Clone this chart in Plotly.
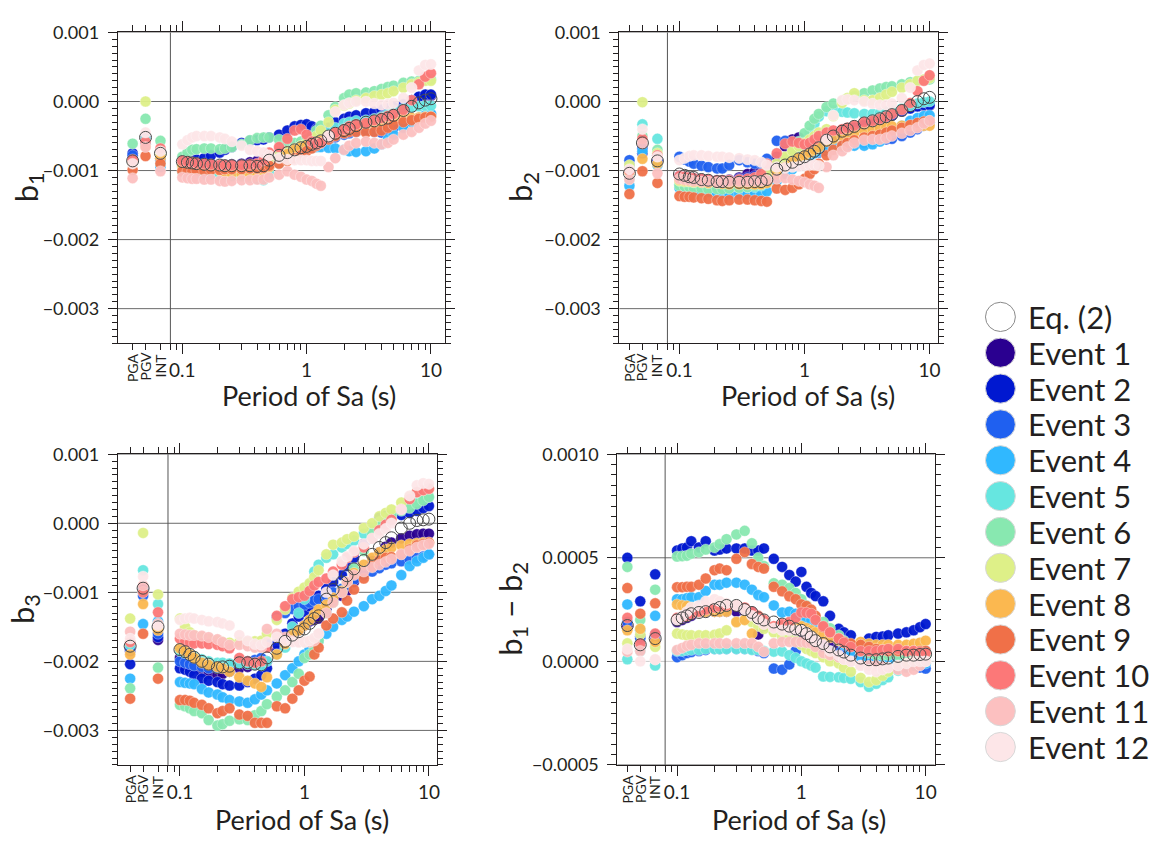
import math
import plotly.graph_objects as go

W, H = 1167, 848
SCALE = 1e-3  # values below are in units of 0.001

PERIODS = [0.1, 0.11, 0.12, 0.13, 0.15, 0.17, 0.2, 0.22, 0.25, 0.3, 0.35, 0.4, 0.45, 0.5,
           0.6, 0.7, 0.8, 0.9, 1.0, 1.1, 1.2, 1.3,
           1.5, 1.7, 2.0, 2.2, 2.5, 3.0, 3.5, 4.0, 4.5, 5.0,
           6.0, 7.0, 8.0, 9.0, 10.0]
CATEGORIES = ["PGA", "PGV", "INT"]
SERIES = ["Eq. (2)"] + ["Event %d" % i for i in range(1, 13)]
COLORS = ["#ffffff", "#2a0090", "#0018d0", "#1f60f0", "#30b8ff", "#66e6e0", "#88e8b0",
          "#def088", "#fbb850", "#f07048", "#fc7878", "#fcc0c0", "#fde6e8"]

# ---------------- b1 ----------------
B1_CAT = [[-0.86, -0.52, -0.75], [-0.80, -0.54, -0.82], [-0.75, -0.57, -0.80], [-0.78, -0.60, -0.85],
          [-0.90, -0.62, -0.95], [-0.88, -0.55, -0.90], [-0.61, -0.25, -0.57], [-0.90, 0.00, -0.78],
          [-0.88, -0.65, -0.82], [-0.99, -0.79, -0.90], [-0.84, -0.58, -0.68], [-1.11, -0.66, -1.01],
          [-0.90, -0.45, -0.72]]
B1_SA = [
    [-0.87, -0.88, -0.89, -0.90, -0.91, -0.92, -0.92, -0.93, -0.93, -0.93, -0.93, -0.94, -0.93, -0.85,
     -0.78, -0.74, -0.70, -0.67, -0.65, -0.62, -0.60, -0.57,
     -0.50, -0.46, -0.42, -0.39, -0.35, -0.30, -0.28, -0.26, -0.24, -0.20,
     -0.13, -0.07, -0.02, 0.02, 0.04],
    [-0.86, -0.87, -0.88, -0.89, -0.90, -0.91, -0.93, -0.92, -0.91, -0.90, -0.88, -0.86, -0.84, -0.80,
     -0.75, -0.70, -0.66, -0.63, -0.62, -0.60, -0.58, -0.55,
     -0.48, -0.44, -0.40, -0.37, -0.33, -0.28, -0.24, -0.20, -0.15, -0.12,
     -0.05, 0.02, 0.06, 0.08, 0.08],
    [-0.88, -0.87, -0.86, -0.84, -0.82, -0.78, -0.74, -0.70, -0.66, -0.60, -0.57, -0.56, -0.55, -0.52,
     -0.48, -0.42, -0.36, -0.34, -0.33, -0.36, -0.40, -0.42,
     -0.38, -0.30, -0.25, -0.22, -0.20, -0.17, -0.15, -0.12, -0.10, -0.08,
     -0.04, 0.02, 0.07, 0.10, 0.10],
    [-0.92, -0.93, -0.93, -0.94, -0.95, -0.96, -0.96, -0.95, -0.95, -0.94, -0.93, -0.92, -0.90, -0.87,
     -0.80, -0.74, -0.70, -0.67, -0.65, -0.63, -0.62, -0.60,
     -0.56, -0.52, -0.48, -0.46, -0.44, -0.42, -0.44, -0.45, -0.42, -0.38,
     -0.33, -0.28, -0.24, -0.20, -0.18],
    [-0.95, -0.96, -0.97, -0.98, -0.98, -0.99, -1.00, -1.00, -0.99, -0.98, -0.96, -0.95, -0.93, -0.88,
     -0.82, -0.77, -0.73, -0.71, -0.69, -0.67, -0.66, -0.66,
     -0.67, -0.68, -0.70, -0.72, -0.73, -0.72, -0.68, -0.62, -0.55, -0.48,
     -0.38, -0.30, -0.24, -0.20, -0.18],
    [-1.02, -1.03, -1.04, -1.05, -1.06, -1.06, -1.07, -1.08, -1.08, -1.08, -1.10, -1.12, -1.14, -1.05,
     -0.90, -0.80, -0.72, -0.68, -0.64, -0.60, -0.56, -0.52,
     -0.45, -0.38, -0.32, -0.30, -0.28, -0.27, -0.25, -0.22, -0.18, -0.13,
     -0.10, -0.08, -0.07, -0.06, -0.06],
    [-0.80, -0.74, -0.70, -0.69, -0.68, -0.68, -0.69, -0.68, -0.66, -0.62, -0.56, -0.53, -0.52, -0.52,
     -0.55, -0.58, -0.60, -0.58, -0.55, -0.50, -0.42, -0.35,
     -0.20, -0.08, 0.05, 0.10, 0.12, 0.13, 0.15, 0.18, 0.21, 0.23,
     0.27, 0.29, 0.30, 0.31, 0.32],
    [-0.94, -0.95, -0.95, -0.96, -0.96, -0.97, -0.97, -0.97, -0.96, -0.95, -0.94, -0.92, -0.90, -0.85,
     -0.78, -0.72, -0.68, -0.64, -0.60, -0.56, -0.50, -0.42,
     -0.30, -0.12, -0.06, -0.03, 0.02, 0.05, 0.08, 0.10, 0.12, 0.15,
     0.20, 0.25, 0.28, 0.30, 0.30],
    [-0.92, -0.93, -0.94, -0.95, -0.96, -0.98, -1.00, -1.02, -1.04, -1.06, -1.08, -1.08, -1.05, -0.95,
     -0.84, -0.76, -0.70, -0.67, -0.64, -0.62, -0.60, -0.57,
     -0.50, -0.46, -0.42, -0.40, -0.37, -0.34, -0.32, -0.30, -0.28, -0.26,
     -0.24, -0.24, -0.23, -0.22, -0.22],
    [-1.01, -1.01, -1.01, -1.00, -1.00, -0.99, -0.99, -0.98, -0.98, -0.98, -0.97, -0.97, -0.96, -0.93,
     -0.90, -0.86, -0.82, -0.78, -0.72, -0.68, -0.64, -0.60,
     -0.55, -0.50, -0.46, -0.44, -0.44, -0.45, -0.44, -0.42, -0.38, -0.34,
     -0.30, -0.27, -0.25, -0.23, -0.22],
    [-0.86, -0.87, -0.88, -0.89, -0.90, -0.91, -0.92, -0.92, -0.92, -0.92, -0.91, -0.90, -0.85, -0.74,
     -0.66, -0.54, -0.42, -0.40, -0.48, -0.58, -0.62, -0.60,
     -0.52, -0.45, -0.40, -0.36, -0.33, -0.31, -0.27, -0.24, -0.21, -0.18,
     -0.12, 0.02, 0.25, 0.36, 0.41],
    [-1.10, -1.11, -1.12, -1.12, -1.13, -1.13, -1.15, -1.16, -1.15, -1.14, -1.14, -1.13, -1.13, -1.10,
     -1.06, -1.01, -1.06, -1.09, -1.13, -1.15, -1.19, -1.22,
     -0.95, -0.82, -0.70, -0.64, -0.60, -0.58, -0.60, -0.62, -0.60, -0.55,
     -0.48, -0.44, -0.38, -0.32, -0.28],
    [-0.62, -0.56, -0.52, -0.50, -0.50, -0.50, -0.52, -0.54, -0.58, -0.64, -0.70, -0.72, -0.74, -0.78,
     -0.82, -0.84, -0.85, -0.85, -0.85, -0.86, -0.86, -0.86,
     -0.50, -0.15, -0.05, -0.02, 0.00, 0.00, -0.03, -0.05, -0.04, -0.02,
     0.05, 0.20, 0.45, 0.53, 0.54],
]

# ---------------- b2 ----------------
B2_CAT = [[-1.04, -0.60, -0.86], [-0.95, -0.70, -0.90], [-0.92, -0.75, -0.85], [-0.85, -0.68, -0.78],
          [-1.22, -0.72, -0.92], [-1.12, -0.33, -0.54], [-0.95, -0.50, -0.70], [-0.92, -0.01, -0.75],
          [-1.02, -0.83, -0.90], [-1.34, -1.01, -1.18], [-1.00, -0.54, -0.78], [-1.13, -0.61, -1.04],
          [-0.98, -0.40, -0.80]]
B2_SA = [
    [-1.05, -1.07, -1.09, -1.10, -1.13, -1.14, -1.16, -1.16, -1.17, -1.17, -1.17, -1.16, -1.16, -1.13,
     -0.98, -0.92, -0.88, -0.83, -0.80, -0.76, -0.72, -0.67,
     -0.56, -0.50, -0.43, -0.40, -0.36, -0.31, -0.28, -0.25, -0.22, -0.19,
     -0.13, -0.06, 0.00, 0.04, 0.06],
    [-1.08, -1.09, -1.10, -1.11, -1.12, -1.13, -1.14, -1.14, -1.13, -1.10, -1.05, -1.02, -1.00, -0.95,
     -0.80, -0.65, -0.55, -0.52, -0.60, -0.66, -0.68, -0.64,
     -0.55, -0.50, -0.45, -0.42, -0.38, -0.34, -0.30, -0.27, -0.24, -0.20,
     -0.14, -0.10, -0.07, -0.06, -0.06],
    [-1.10, -1.11, -1.12, -1.12, -1.13, -1.14, -1.15, -1.15, -1.14, -1.12, -1.10, -1.08, -1.05, -1.00,
     -0.92, -0.86, -0.82, -0.78, -0.75, -0.73, -0.70, -0.66,
     -0.58, -0.52, -0.46, -0.42, -0.38, -0.34, -0.30, -0.27, -0.24, -0.20,
     -0.14, -0.10, -0.07, -0.05, -0.05],
    [-0.80, -0.84, -0.87, -0.90, -0.93, -0.95, -0.97, -0.97, -0.92, -0.85, -0.88, -0.90, -0.90, -0.83,
     -0.57, -0.57, -0.62, -0.66, -0.70, -0.72, -0.73, -0.74,
     -0.72, -0.68, -0.64, -0.62, -0.60, -0.60, -0.58, -0.56, -0.55, -0.54,
     -0.50, -0.45, -0.40, -0.35, -0.30],
    [-1.25, -1.26, -1.27, -1.28, -1.30, -1.31, -1.33, -1.33, -1.34, -1.34, -1.34, -1.34, -1.34, -1.30,
     -1.15, -1.05, -0.98, -0.92, -0.86, -0.80, -0.75, -0.72,
     -0.68, -0.66, -0.65, -0.64, -0.64, -0.64, -0.62, -0.58, -0.52, -0.45,
     -0.35, -0.28, -0.24, -0.21, -0.20],
    [-1.20, -1.21, -1.22, -1.22, -1.23, -1.24, -1.24, -1.24, -1.25, -1.25, -1.24, -1.24, -1.22, -1.15,
     -1.00, -0.88, -0.78, -0.68, -0.58, -0.45, -0.32, -0.22,
     -0.14, -0.13, -0.15, -0.16, -0.17, -0.18, -0.18, -0.17, -0.15, -0.13,
     -0.10, -0.06, -0.03, -0.01, 0.00],
    [-1.22, -1.23, -1.24, -1.25, -1.26, -1.27, -1.27, -1.27, -1.26, -1.25, -1.24, -1.22, -1.20, -1.10,
     -0.95, -0.82, -0.70, -0.58, -0.46, -0.35, -0.25, -0.18,
     -0.08, -0.03, 0.00, 0.04, 0.08, 0.12, 0.16, 0.19, 0.21, 0.22,
     0.25, 0.28, 0.30, 0.31, 0.32],
    [-1.15, -1.16, -1.16, -1.17, -1.17, -1.18, -1.18, -1.18, -1.17, -1.16, -1.15, -1.13, -1.10, -1.00,
     -0.90, -0.80, -0.72, -0.65, -0.60, -0.55, -0.50, -0.45,
     -0.40, -0.21, -0.02, 0.05, 0.12, 0.02, 0.02, 0.05, 0.10, 0.14,
     0.20, 0.25, 0.30, 0.32, 0.34],
    [-1.13, -1.14, -1.15, -1.16, -1.17, -1.18, -1.18, -1.19, -1.20, -1.20, -1.20, -1.20, -1.20, -1.18,
     -1.05, -0.95, -0.88, -0.82, -0.78, -0.74, -0.70, -0.66,
     -0.58, -0.54, -0.50, -0.48, -0.45, -0.42, -0.40, -0.38, -0.37, -0.36,
     -0.35, -0.35, -0.35, -0.35, -0.35],
    [-1.37, -1.38, -1.38, -1.39, -1.40, -1.41, -1.43, -1.44, -1.43, -1.42, -1.42, -1.43, -1.44, -1.45,
     -1.26, -1.28, -1.25, -1.20, -1.12, -1.05, -0.98, -0.90,
     -0.78, -0.70, -0.64, -0.60, -0.56, -0.52, -0.50, -0.48, -0.45, -0.42,
     -0.38, -0.34, -0.31, -0.29, -0.28],
    [-1.08, -1.09, -1.10, -1.11, -1.12, -1.13, -1.14, -1.14, -1.14, -1.13, -1.12, -1.10, -1.05, -0.90,
     -0.75, -0.61, -0.58, -0.60, -0.62, -0.60, -0.55, -0.50,
     -0.45, -0.42, -0.40, -0.38, -0.35, -0.30, -0.28, -0.25, -0.22, -0.18,
     -0.12, -0.02, 0.15, 0.30, 0.38],
    [-1.12, -1.13, -1.14, -1.15, -1.16, -1.16, -1.17, -1.17, -1.16, -1.16, -1.16, -1.15, -1.15, -1.14,
     -1.12, -1.11, -1.13, -1.15, -1.17, -1.20, -1.22, -1.25,
     -0.95, -0.78, -0.72, -0.66, -0.60, -0.56, -0.55, -0.55, -0.53, -0.50,
     -0.46, -0.42, -0.38, -0.32, -0.28],
    [-0.85, -0.82, -0.79, -0.78, -0.78, -0.79, -0.80, -0.80, -0.81, -0.82, -0.84, -0.85, -0.88, -0.92,
     -0.95, -0.96, -0.95, -0.94, -0.93, -0.92, -0.92, -0.93,
     -0.55, -0.20, 0.02, 0.03, 0.02, 0.00, -0.03, -0.05, -0.05, -0.03,
     0.05, 0.20, 0.45, 0.53, 0.55],
]

# ---------------- b3 ----------------
B3_CAT = [[-1.78, -0.94, -1.50], [-1.85, -0.96, -1.69], [-2.04, -1.00, -1.65], [-1.82, -1.05, -1.60],
          [-2.25, -1.46, -1.42], [-1.76, -0.68, -1.17], [-2.39, -0.99, -2.09], [-1.38, -0.14, -1.03],
          [-1.90, -1.17, -1.55], [-2.54, -1.60, -2.25], [-1.72, -1.00, -1.29], [-1.57, -0.90, -1.45],
          [-1.67, -0.77, -1.48]]
B3_SA = [
    [-1.83, -1.86, -1.90, -1.94, -2.00, -2.04, -2.09, -2.08, -2.07, -2.02, -2.02, -2.04, -2.05, -1.95,
     -1.81, -1.71, -1.62, -1.57, -1.53, -1.45, -1.38, -1.34,
     -1.10, -0.96, -0.85, -0.76, -0.66, -0.54, -0.45, -0.35, -0.28, -0.21,
     -0.07, 0.00, 0.04, 0.05, 0.06],
    [-1.95, -2.00, -2.05, -2.10, -2.15, -2.18, -2.20, -2.18, -2.15, -2.10, -2.08, -2.05, -2.03, -2.00,
     -1.85, -1.72, -1.62, -1.55, -1.48, -1.42, -1.40, -1.38,
     -1.25, -1.12, -1.05, -0.98, -0.85, -0.70, -0.55, -0.42, -0.34, -0.28,
     -0.22, -0.18, -0.16, -0.15, -0.15],
    [-2.10, -2.12, -2.15, -2.20, -2.25, -2.28, -2.30, -2.33, -2.35, -2.35, -2.30, -2.25, -2.20, -2.10,
     -1.75, -1.60, -1.45, -1.35, -1.28, -1.20, -1.12, -1.05,
     -0.95, -0.85, -0.75, -0.62, -0.50, -0.30, -0.10, 0.08, 0.10, 0.10,
     0.12, 0.15, 0.18, 0.22, 0.25],
    [-2.00, -2.02, -2.04, -2.06, -2.08, -2.10, -2.10, -2.08, -2.05, -2.02, -2.00, -1.98, -1.95, -1.75,
     -1.36, -1.30, -1.24, -1.20, -1.18, -1.15, -1.12, -1.10,
     -1.05, -1.00, -0.95, -0.90, -0.82, -0.75, -0.70, -0.65, -0.60, -0.58,
     -0.55, -0.52, -0.50, -0.48, -0.45],
    [-2.30, -2.31, -2.32, -2.33, -2.40, -2.45, -2.48, -2.52, -2.56, -2.58, -2.60, -2.55, -2.48, -2.42,
     -2.32, -2.20, -2.10, -2.00, -1.90, -1.82, -1.75, -1.70,
     -1.60, -1.50, -1.40, -1.35, -1.28, -1.20, -1.10, -1.05, -0.98, -0.90,
     -0.75, -0.62, -0.55, -0.50, -0.45],
    [-1.85, -1.88, -1.90, -1.93, -1.97, -2.00, -2.02, -2.02, -2.03, -2.03, -2.04, -2.05, -2.06, -2.00,
     -1.90, -1.80, -1.50, -1.30, -1.10, -0.90, -0.70, -0.60,
     -0.50, -0.45, -0.35, -0.30, -0.25, -0.15, -0.08, 0.00, 0.05, 0.10,
     0.20, 0.28, 0.32, 0.36, 0.38],
    [-2.63, -2.65, -2.68, -2.72, -2.75, -2.85, -2.93, -2.91, -2.86, -2.84, -2.85, -2.78, -2.72, -2.62,
     -2.51, -2.42, -2.30, -2.18, -1.95, -1.90, -1.82, -1.70,
     -1.30, -1.15, -1.00, -0.85, -0.65, -0.40, -0.15, 0.02, 0.08, 0.12,
     0.18, 0.22, 0.28, 0.33, 0.38],
    [-1.38, -1.50, -1.58, -1.62, -1.65, -1.68, -1.70, -1.72, -1.73, -1.72, -1.72, -1.71, -1.70, -1.60,
     -1.40, -1.25, -1.08, -0.99, -0.93, -0.87, -0.78, -0.68,
     -0.45, -0.31, -0.28, -0.23, -0.19, -0.07, 0.00, 0.10, 0.15, 0.20,
     0.30, 0.38, 0.45, 0.48, 0.50],
    [-1.81, -1.85, -1.90, -1.95, -2.02, -2.05, -2.08, -2.10, -2.15, -2.23, -2.28, -2.32, -2.37, -2.23,
     -1.90, -1.75, -1.62, -1.55, -1.48, -1.40, -1.32, -1.25,
     -1.18, -1.08, -0.98, -0.85, -0.72, -0.60, -0.50, -0.42, -0.38, -0.35,
     -0.32, -0.30, -0.29, -0.28, -0.28],
    [-2.56, -2.56, -2.57, -2.60, -2.63, -2.68, -2.75, -2.72, -2.68, -2.77, -2.79, -2.89, -2.89, -2.89,
     -2.65, -2.68, -2.54, -2.42, -2.28, -2.22, -1.90, -1.80,
     -1.48, -1.38, -1.29, -1.12, -0.96, -0.80, -0.62, -0.54, -0.50, -0.49,
     -0.45, -0.38, -0.32, -0.30, -0.28],
    [-1.67, -1.70, -1.72, -1.74, -1.74, -1.75, -1.76, -1.78, -1.81, -1.95, -2.00, -2.02, -2.00, -1.80,
     -1.34, -1.20, -1.10, -1.07, -1.05, -0.98, -0.90, -0.85,
     -0.80, -0.70, -0.60, -0.50, -0.42, -0.35, -0.22, -0.10, -0.02, 0.05,
     0.20, 0.35, 0.45, 0.48, 0.50],
    [-1.60, -1.61, -1.62, -1.62, -1.63, -1.65, -1.68, -1.72, -1.76, -1.76, -1.78, -1.80, -1.80, -1.53,
     -1.60, -1.65, -1.70, -1.72, -1.72, -1.72, -1.70, -1.60,
     -1.30, -1.15, -1.00, -0.85, -0.75, -0.70, -0.64, -0.60, -0.56, -0.52,
     -0.45, -0.40, -0.35, -0.32, -0.30],
    [-1.40, -1.38, -1.37, -1.38, -1.40, -1.42, -1.43, -1.45, -1.48, -1.62, -1.70, -1.75, -1.76, -1.72,
     -1.65, -1.70, -1.72, -1.72, -1.72, -1.70, -1.66, -1.60,
     -1.00, -0.75, -0.55, -0.48, -0.40, -0.30, -0.22, -0.15, -0.08, 0.00,
     0.20, 0.40, 0.55, 0.58, 0.57],
]

# ---------------- b1 - b2 ----------------
B12_CAT = [[0.173, 0.08, 0.11], [0.17, 0.12, 0.10], [0.50, 0.29, 0.42], [0.19, 0.11, 0.13],
           [0.275, 0.15, 0.22], [0.01, 0.05, -0.02], [0.456, 0.20, 0.346], [0.087, 0.13, 0.07],
           [0.15, 0.157, 0.094], [0.354, 0.23, 0.28], [0.21, 0.086, 0.134], [0.047, 0.05, 0.008],
           [0.06, 0.0, 0.01]]
B12_SA = [
    [0.20, 0.21, 0.22, 0.23, 0.236, 0.24, 0.25, 0.26, 0.27, 0.27, 0.25, 0.236, 0.21, 0.20,
     0.19, 0.18, 0.17, 0.157, 0.15, 0.134, 0.118, 0.10,
     0.086, 0.07, 0.055, 0.045, 0.03, 0.016, 0.008, 0.008, 0.012, 0.016,
     0.024, 0.03, 0.03, 0.033, 0.035],
    [0.19, 0.20, 0.21, 0.22, 0.24, 0.24, 0.24, 0.24, 0.24, 0.24, 0.24, 0.24, 0.13, 0.17,
     0.16, 0.15, 0.14, 0.14, 0.13, 0.12, 0.11, 0.10,
     0.09, 0.085, 0.08, 0.07, 0.05, 0.02, 0.03, 0.04, 0.04, 0.05,
     0.05, 0.05, 0.05, 0.05, 0.05],
    [0.535, 0.545, 0.55, 0.58, 0.55, 0.58, 0.535, 0.54, 0.545, 0.545, 0.545, 0.535, 0.535, 0.545,
     0.495, 0.456, 0.417, 0.385, 0.432, 0.36, 0.33, 0.315,
     0.29, 0.22, 0.157, 0.14, 0.126, 0.08, 0.11, 0.118, 0.12, 0.126,
     0.134, 0.14, 0.15, 0.165, 0.18],
    [0.02, 0.03, 0.04, 0.045, 0.05, 0.055, 0.06, 0.06, 0.06, 0.06, 0.06, 0.06, 0.05, 0.04,
     -0.035, -0.04, -0.015, 0.05, 0.08, 0.08, 0.07, 0.07,
     0.06, 0.05, 0.04, 0.03, 0.02, 0.0, 0.0, 0.0, 0.0, 0.0,
     -0.01, -0.02, -0.02, -0.03, -0.035],
    [0.30, 0.30, 0.305, 0.31, 0.31, 0.34, 0.37, 0.37, 0.38, 0.38, 0.37, 0.346, 0.32, 0.31,
     0.27, 0.236, 0.24, 0.23, 0.22, 0.21, 0.20, 0.19,
     0.17, 0.14, 0.10, 0.08, 0.05, 0.02, 0.01, 0.0, 0.0, 0.0,
     0.0, -0.005, -0.01, -0.01, -0.01],
    [0.05, 0.05, 0.055, 0.055, 0.055, 0.06, 0.06, 0.06, 0.06, 0.06, 0.06, 0.055, 0.055, 0.05,
     0.047, 0.048, 0.03, 0.017, 0.0, -0.01, -0.02, -0.03,
     -0.073, -0.075, -0.077, -0.08, -0.084, -0.10, -0.123, -0.108, -0.09, -0.077,
     -0.045, -0.03, -0.02, -0.01, 0.0],
    [0.506, 0.508, 0.51, 0.52, 0.527, 0.54, 0.55, 0.566, 0.59, 0.613, 0.63, 0.57, 0.50, 0.46,
     0.377, 0.37, 0.354, 0.33, 0.30, 0.27, 0.236, 0.21,
     0.19, 0.16, 0.126, 0.10, 0.08, 0.05, 0.04, 0.03, 0.03, 0.03,
     0.03, 0.03, 0.03, 0.03, 0.03],
    [0.134, 0.13, 0.126, 0.126, 0.126, 0.126, 0.128, 0.135, 0.15, 0.19, 0.20, 0.19, 0.17, 0.157,
     0.14, 0.12, 0.11, 0.10, 0.08, 0.06, 0.05, 0.04,
     0.02, 0.0, -0.01, -0.03, -0.05, -0.08, -0.10, -0.09, -0.07, -0.05,
     -0.02, -0.01, 0.0, 0.0, 0.0],
    [0.275, 0.27, 0.267, 0.26, 0.24, 0.24, 0.24, 0.24, 0.24, 0.19, 0.20, 0.134, 0.22, 0.18,
     0.165, 0.17, 0.17, 0.17, 0.17, 0.16, 0.15, 0.14,
     0.13, 0.115, 0.10, 0.09, 0.08, 0.094, 0.085, 0.08, 0.08, 0.08,
     0.08, 0.08, 0.085, 0.09, 0.10],
    [0.358, 0.358, 0.36, 0.36, 0.37, 0.40, 0.44, 0.448, 0.44, 0.495, 0.527, 0.47, 0.456, 0.448,
     0.36, 0.338, 0.314, 0.30, 0.275, 0.267, 0.25, 0.22,
     0.165, 0.14, 0.11, 0.095, 0.086, 0.08, 0.07, 0.06, 0.055, 0.05,
     0.05, 0.05, 0.05, 0.05, 0.05],
    [0.21, 0.215, 0.22, 0.23, 0.24, 0.25, 0.26, 0.265, 0.27, 0.27, 0.26, 0.24, 0.22, 0.20,
     0.17, 0.18, 0.19, 0.21, 0.236, 0.235, 0.23, 0.20,
     0.17, 0.14, 0.11, 0.09, 0.07, 0.05, 0.05, 0.05, 0.055, 0.06,
     0.06, 0.05, 0.05, 0.045, 0.04],
    [0.055, 0.065, 0.075, 0.08, 0.087, 0.087, 0.087, 0.087, 0.087, 0.087, 0.087, 0.087, 0.07, 0.047,
     0.087, 0.094, 0.094, 0.094, 0.094, 0.09, 0.087, 0.07,
     0.04, 0.03, 0.02, 0.01, 0.0, -0.02, -0.02, -0.02, -0.025, -0.03,
     -0.04, -0.05, -0.04, -0.02, 0.0],
    [0.20, 0.22, 0.24, 0.26, 0.27, 0.29, 0.30, 0.29, 0.28, 0.27, 0.25, 0.22, 0.20, 0.18,
     0.16, 0.15, 0.15, 0.15, 0.15, 0.14, 0.12, 0.10,
     0.08, 0.05, 0.03, 0.01, 0.0, -0.02, -0.04, -0.05, -0.04, -0.03,
     -0.02, -0.01, 0.0, 0.0, 0.0],
]

Y_TITLES = ["b<sub>1</sub>", "b<sub>2</sub>", "b<sub>3</sub>", "b<sub>1</sub> \u2212 b<sub>2</sub>"]
X_TITLE = "Period of Sa (s)"
PANEL_DATA = [(B1_CAT, B1_SA), (B2_CAT, B2_SA), (B3_CAT, B3_SA), (B12_CAT, B12_SA)]

# ---------------- geometry / style (window pixel coordinates) ----------------
FONT = "Lato"
INK = "#231f20"
CAT_X = [10 ** -1.40, 10 ** -1.296, 10 ** -1.176]   # placement of PGA/PGV/INT on the log axis
SEP_X = 10 ** -1.096
LOG_MINOR = [0.08, 0.09] + [k / 10 for k in range(2, 10)] + [float(k) for k in range(2, 10)]

X_DOMS = [[118, 446], [621, 940], [118, 438], [619, 937]]
X_RANGES = [[-1.52, 1.112], [-1.48, 1.064], [-1.50, 1.064], [-1.48, 1.072]]
Y_DOMS = [[21, 340], [21, 340], [454, 773], [454, 773]]
Y_RANGES = [[-0.0035, 0.001]] * 3 + [[-0.0005, 0.001]]
Y_DTICK = [0.001, 0.001, 0.001, 0.0005]
Y_MINOR = [0.0001, 0.0001, 0.0001, 0.00005]
Y_FMT = [".3f", ".3f", ".3f", ".4f"]
LIGHT_GRID = [None, None, -0.002, 0.0]   # grid lines drawn lighter in the reference
YTITLE_POS = [(28, 180), (524, 180), (24, 613), (513, 613)]
XTITLE_POS = [(310, 394), (810, 394), (303, 829), (801, 829)]


def px(x):
    return x / W


def py(y):
    return 1 - y / H


fig = go.Figure()
layout = dict(width=W, height=H, autosize=False, margin=dict(l=0, r=0, t=0, b=0, pad=0),
              paper_bgcolor="white", plot_bgcolor="white", showlegend=False, hovermode=False,
              font=dict(family=FONT, color=INK), annotations=[], shapes=[])

draw_order = list(range(1, 13)) + [0]
for p in range(4):
    n = "" if p == 0 else str(p + 1)
    cats, sa = PANEL_DATA[p]
    xs = CAT_X + PERIODS
    for s in draw_order:
        ys = [v * SCALE for v in cats[s] + sa[s]]
        if s == 0:
            marker = dict(size=12, color="rgba(255,255,255,0.0)", line=dict(color="#4a4a4a", width=1))
        else:
            marker = dict(size=11, color=COLORS[s], opacity=0.95,
                          line=dict(color="rgba(255,255,255,0.6)", width=0.6))
        fig.add_trace(go.Scatter(x=xs, y=ys, mode="markers", name=SERIES[s], marker=marker,
                                 xaxis="x" + n, yaxis="y" + n, showlegend=False))

    x0, x1 = X_DOMS[p]
    ya, yb = Y_DOMS[p]
    layout["xaxis" + n] = dict(
        type="log", domain=[px(x0), px(x1)], range=X_RANGES[p], anchor="y" + n,
        showline=True, linecolor=INK, linewidth=1, mirror="allticks",
        ticks="outside", ticklen=10, tickwidth=1, tickcolor=INK,
        tickvals=[0.1, 1, 10], ticktext=["0.1", "1", "10"], tickfont=dict(size=19, color=INK),
        showgrid=False, zeroline=False,
        minor=dict(tickmode="array", tickvals=CAT_X + LOG_MINOR, ticks="outside", ticklen=6,
                   tickcolor=INK, showgrid=False))
    layout["yaxis" + n] = dict(
        domain=[py(yb), py(ya)], range=Y_RANGES[p], anchor="x" + n,
        showline=True, linecolor=INK, linewidth=1, mirror="allticks",
        ticks="outside", ticklen=9, tickwidth=1, tickcolor=INK,
        tick0=0, dtick=Y_DTICK[p], tickformat=Y_FMT[p], tickfont=dict(size=18, color=INK),
        ticklabelstandoff=5, showgrid=False, zeroline=False,
        minor=dict(tick0=0, dtick=Y_MINOR[p], ticks="outside", ticklen=5, tickcolor=INK, showgrid=False))

    # horizontal grid lines at the major ticks (one is lighter in some panels)
    lo, hi = Y_RANGES[p]
    k = math.ceil(lo / Y_DTICK[p] - 1e-9)
    while k * Y_DTICK[p] <= hi + 1e-12:
        gv = k * Y_DTICK[p]
        light = LIGHT_GRID[p] is not None and abs(gv - LIGHT_GRID[p] * SCALE) < 1e-12
        layout["shapes"].append(dict(type="line", layer="below", xref="x" + n + " domain", x0=0, x1=1,
                                     yref="y" + n, y0=gv, y1=gv,
                                     line=dict(color="#c8c8c8" if light else "#6a6a6a", width=1)))
        k += 1

    # PGA / PGV / INT labels
    for cx, lab in zip(CAT_X, CATEGORIES):
        layout["annotations"].append(dict(
            text=lab, xref="x" + n, x=math.log10(cx), yref="y" + n + " domain", y=-0.025,
            xanchor="center", yanchor="top", textangle=-90, showarrow=False,
            font=dict(size=14, color=INK, family=FONT)))
    # separator line between ground-motion indices and Sa periods
    layout["shapes"].append(dict(type="line", layer="below", xref="x" + n, x0=SEP_X, x1=SEP_X,
                                 yref="y" + n + " domain", y0=0, y1=1,
                                 line=dict(color="#555555", width=1)))
    tx, ty = YTITLE_POS[p]
    layout["annotations"].append(dict(text=Y_TITLES[p], xref="paper", yref="paper", x=px(tx), y=py(ty),
                                      xanchor="center", yanchor="middle", textangle=-90, showarrow=False,
                                      font=dict(size=31, color=INK, family=FONT)))
    tx, ty = XTITLE_POS[p]
    layout["annotations"].append(dict(text=X_TITLE, xref="paper", yref="paper", x=px(tx), y=py(ty),
                                      xanchor="center", yanchor="middle", showarrow=False,
                                      font=dict(size=27, color=INK, family=FONT)))

# ---------------- custom legend with large symbols ----------------
LEG_X, LEG_Y0, LEG_DY, LEG_R = 1003, 313, 36.8, 15
for i, name in enumerate(SERIES):
    cy = LEG_Y0 + i * LEG_DY
    if i == 0:
        fill, edge = "white", "#8a8a8a"
    else:
        fill, edge = COLORS[i], "#d8d8d8"
    layout["shapes"].append(dict(type="circle", xref="paper", yref="paper",
                                 x0=px(LEG_X - LEG_R), x1=px(LEG_X + LEG_R),
                                 y0=py(cy + LEG_R), y1=py(cy - LEG_R),
                                 fillcolor=fill, line=dict(color=edge, width=1)))
    layout["annotations"].append(dict(text=name, xref="paper", yref="paper", x=px(1029), y=py(cy),
                                      xanchor="left", yanchor="middle", showarrow=False,
                                      font=dict(size=31, color=INK, family=FONT)))

fig.update_layout(**layout)
# remove the browser's default 8px page margin so the figure fills the window exactly
PAGE_FIX = ("document.documentElement.style.margin='0';document.body.style.margin='0';"
            "document.body.style.overflow='hidden';")
fig.write_html("out.html", post_script=PAGE_FIX, config={"displayModeBar": False})
